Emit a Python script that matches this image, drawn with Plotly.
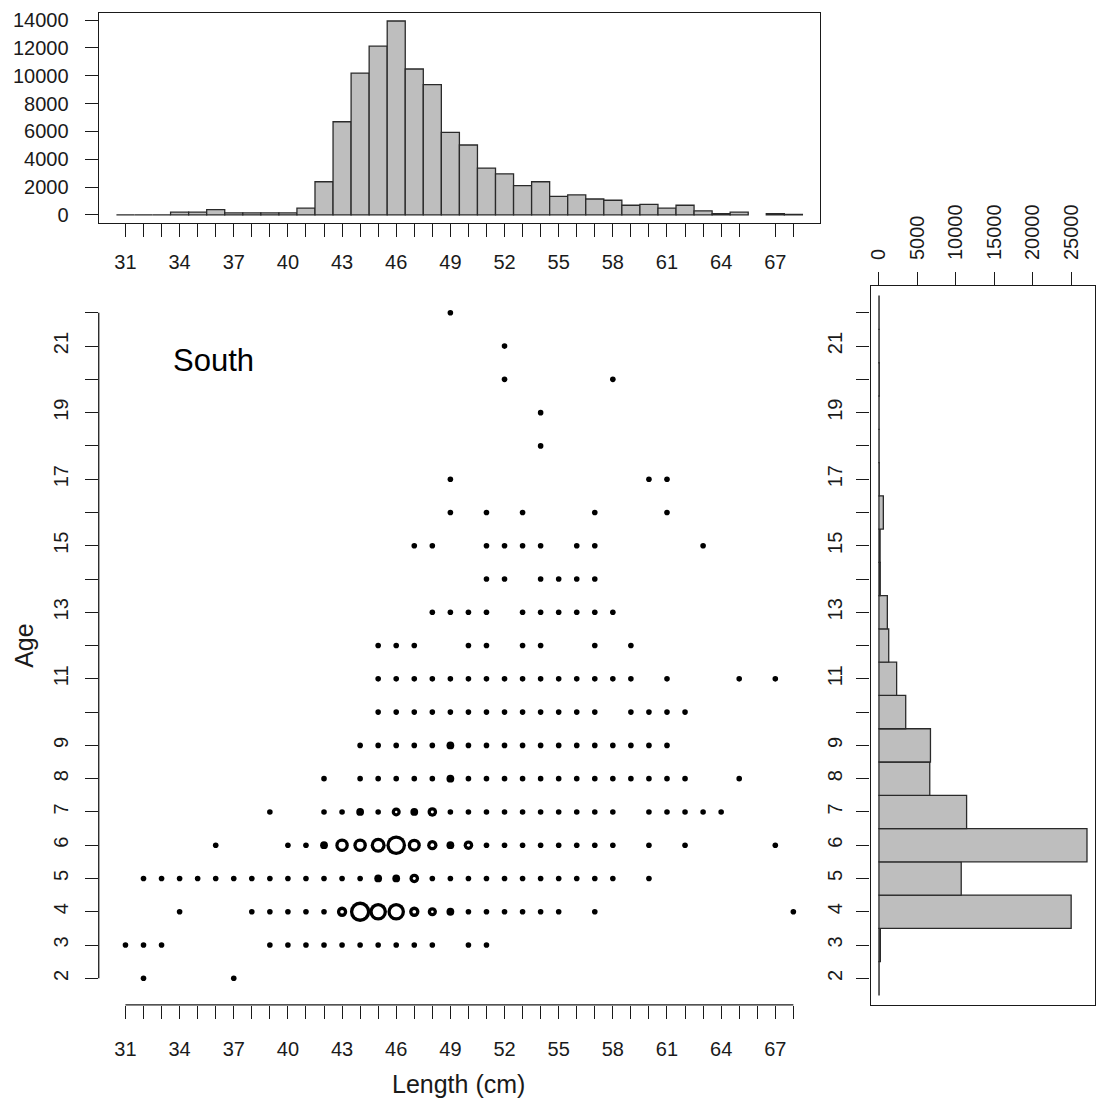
import plotly.graph_objects as go

# ---------------- data ----------------
# Length-frequency (top histogram), lengths 31..68 cm
len_bins = list(range(31, 69))
len_freq = [0, 0, 0, 190, 190, 380, 140, 140, 140, 140, 480, 2380, 6690, 10190,
            12120, 13930, 10480, 9360, 5930, 5020, 3360, 2950, 2100, 2380, 1330,
            1430, 1140, 1050, 690, 760, 480, 690, 290, 95, 190, None, 95, 30]

# Age-frequency (right histogram), ages 2..22
age_bins = list(range(2, 23))
age_freq = [20, 180, 25000, 10700, 27060, 11400, 6610, 6700, 3480, 2300, 1270,
            1090, 170, 150, 570, 40, 20, 20, 40, 20, 20]

# Age-length key (bubble plot): age, length, number
pt_age = (
    [2] * 2 + [3] * 15 + [4] * 21 + [5] * 28 + [6] * 23 + [7] * 23 + [8] * 21 +
    [9] * 18 + [10] * 17 + [11] * 18 + [12] * 9 + [13] * 10 + [14] * 6 +
    [15] * 9 + [16] * 5 + [17] * 3 + [18] + [19] + [20] * 2 + [21] + [22]
)
pt_len = [
    32, 37,
    31, 32, 33, 39, 40, 41, 42, 43, 44, 45, 46, 47, 48, 50, 51,
    34, 38, 39, 40, 41, 42, 43, 44, 45, 46, 47, 48, 49, 50, 51, 52, 53, 54, 55, 57, 68,
    32, 33, 34, 35, 36, 37, 38, 39, 40, 41, 42, 43, 44, 45, 46, 47, 48, 49, 50, 51, 52,
    53, 54, 55, 56, 57, 58, 60,
    36, 40, 41, 42, 43, 44, 45, 46, 47, 48, 49, 50, 51, 52, 53, 54, 55, 56, 57, 58, 60, 62, 67,
    39, 42, 43, 44, 45, 46, 47, 48, 49, 50, 51, 52, 53, 54, 55, 56, 57, 58, 60, 61, 62, 63, 64,
    42, 44, 45, 46, 47, 48, 49, 50, 51, 52, 53, 54, 55, 56, 57, 58, 59, 60, 61, 62, 65,
    44, 45, 46, 47, 48, 49, 50, 51, 52, 53, 54, 55, 56, 57, 58, 59, 60, 61,
    45, 46, 47, 48, 49, 50, 51, 52, 53, 54, 55, 56, 57, 59, 60, 61, 62,
    45, 46, 47, 48, 49, 50, 51, 52, 53, 54, 55, 56, 57, 58, 59, 61, 65, 67,
    45, 46, 47, 50, 51, 53, 54, 57, 59,
    48, 49, 50, 51, 53, 54, 55, 56, 57, 58,
    51, 52, 54, 55, 56, 57,
    47, 48, 51, 52, 53, 54, 56, 57, 63,
    49, 51, 53, 57, 61,
    49, 60, 61,
    54,
    54,
    52, 58,
    52,
    49,
]
pt_n = [
    10, 10,
    12, 12, 12, 12, 12, 12, 12, 12, 12, 12, 12, 12, 12, 12, 12,
    20, 30, 50, 80, 150, 400, 1715, 4165, 3500, 3500, 1715, 1450, 1100, 400, 300, 250, 200, 150, 100, 50, 20,
    20, 20, 30, 30, 40, 40, 60, 80, 100, 150, 250, 350, 450, 1100, 1100, 1540, 450, 400, 350, 300, 250,
    200, 150, 120, 100, 80, 50, 20,
    20, 100, 200, 1100, 2500, 2500, 2860, 4000, 2380, 1715, 1100, 1540, 450, 400, 300, 250, 200, 150, 100, 80, 50, 30, 20,
    20, 200, 300, 1100, 450, 1400, 1100, 1540, 450, 400, 350, 300, 250, 200, 150, 120, 100, 80, 50, 40, 30, 20, 20,
    50, 200, 300, 400, 450, 450, 1100, 450, 400, 350, 300, 250, 200, 150, 120, 100, 80, 60, 40, 30, 20,
    100, 200, 300, 400, 450, 1100, 450, 400, 350, 300, 250, 200, 150, 120, 100, 80, 60, 40,
    100, 150, 200, 250, 300, 300, 300, 250, 250, 200, 150, 120, 100, 60, 50, 40, 30,
    60, 80, 100, 150, 200, 200, 200, 200, 180, 160, 140, 120, 100, 80, 60, 40, 20, 20,
    60, 80, 100, 150, 150, 150, 120, 80, 40,
    60, 80, 100, 120, 150, 150, 120, 100, 80, 60,
    20, 30, 30, 30, 20, 20,
    10, 10, 20, 20, 20, 20, 20, 20, 10,
    100, 150, 150, 100, 50,
    10, 10, 20,
    20,
    20,
    20, 20,
    20,
    20,
]

len_tick_vals_top = [v for v, f in zip(len_bins, len_freq) if f is not None]
len_tick_vals = list(range(31, 69))
len_label_step = 3
age_tick_vals = list(range(2, 23))
age_tick_labels = ["2", "3", "4", "5", "6", "7", "8", "9", "", "11", "", "13", "",
                   "15", "", "17", "", "19", "", "21", ""]
count_ticks_top = list(range(0, 14001, 2000))
count_ticks_right = list(range(0, 25001, 5000))
panel_label = "South"

# ---------------- styling helpers ----------------
W, H = 1100, 1107
FONT = "Liberation Sans, Arial, sans-serif"
INK = "#1a1a1a"
BAR_FILL = "#bebebe"
BAR_LINE = "#2a2a2a"
TICK_FS = 20


def xdom(a, b):
    return [a / W, b / W]


def ydom(top, bottom):
    return [1 - bottom / H, 1 - top / H]


def len_labels(vals):
    return [str(v) if (v - 31) % len_label_step == 0 else "" for v in vals]


def r_range(lo, hi):
    pad = 0.04 * (hi - lo)
    return [lo - pad, hi + pad]


# bubble sizes: circle diameter proportional to number (R symbols-style),
# drawn with a thick outline; tiny counts collapse to a solid dot
LW = 3.3
PX_PER_FISH = 1 / 245.0
diam = [max(2.3, n * PX_PER_FISH) for n in pt_n]
outer_sizes = [d + LW for d in diam]
hole_sizes = [(d - LW) if (d - LW) > 1.6 else 0 for d in diam]

fig = go.Figure()

# top histogram
fig.add_trace(go.Bar(
    x=len_bins, y=len_freq, width=1, xaxis="x", yaxis="y",
    marker=dict(color=BAR_FILL, line=dict(color=BAR_LINE, width=1.3)),
    hoverinfo="x+y",
))

# bubbles: black disc + white hole => thick ring
fig.add_trace(go.Scatter(
    x=pt_len, y=pt_age, mode="markers", xaxis="x2", yaxis="y2",
    marker=dict(symbol="circle", size=outer_sizes, color="black",
                opacity=1, line=dict(width=0)),
    hoverinfo="x+y",
))
fig.add_trace(go.Scatter(
    x=pt_len, y=pt_age, mode="markers", xaxis="x2", yaxis="y2",
    marker=dict(symbol="circle", size=hole_sizes, color="white",
                opacity=1, line=dict(width=0)),
    hoverinfo="skip",
))

# right histogram
fig.add_trace(go.Bar(
    x=age_freq, y=age_bins, orientation="h", width=1, xaxis="x3", yaxis="y3",
    marker=dict(color=BAR_FILL, line=dict(color=BAR_LINE, width=1.3)),
    hoverinfo="x+y",
))

len_range = r_range(min(len_bins), max(len_bins))
age_range = r_range(min(age_bins), max(age_bins))
top_max = max(f for f in len_freq if f is not None)
right_max = max(age_freq)

tickfont = dict(family=FONT, size=TICK_FS, color=INK)
common = dict(showgrid=False, zeroline=False, ticks="outside", ticklen=13,
              tickwidth=1.3, tickcolor=INK, tickfont=tickfont, fixedrange=True)

main_top, main_bot = 284, 1007.3
main_left, main_right = 96, 819.3

fig.update_layout(
    width=W, height=H,
    margin=dict(l=0, r=0, t=0, b=0),
    paper_bgcolor="white", plot_bgcolor="white",
    showlegend=False,
    font=dict(family=FONT, color=INK),
    xaxis=dict(domain=xdom(main_left, main_right), range=len_range, anchor="y",
               tickmode="array", tickvals=len_tick_vals_top,
               ticktext=len_labels(len_tick_vals_top),
               showline=True, mirror=True, linecolor=INK, linewidth=1.3,
               ticklabelstandoff=8, **common),
    yaxis=dict(domain=ydom(9.3, 220), range=r_range(0, top_max), anchor="x",
               tickmode="array", tickvals=count_ticks_top,
               ticktext=[str(v) for v in count_ticks_top],
               showline=True, mirror=True, linecolor=INK, linewidth=1.3,
               ticklabelstandoff=12, **common),
    xaxis2=dict(domain=xdom(main_left, main_right), range=len_range, anchor="y2",
                tickmode="array", tickvals=len_tick_vals,
                ticktext=len_labels(len_tick_vals), showline=False,
                ticklabelstandoff=13, **common),
    yaxis2=dict(domain=ydom(main_top, main_bot), range=age_range, anchor="x2",
                tickmode="array", tickvals=age_tick_vals, ticktext=age_tick_labels,
                tickangle=-90, showline=False, ticklabelstandoff=9, **common),
    xaxis3=dict(domain=xdom(870, 1095.3), range=r_range(0, right_max), anchor="y3",
                side="top", tickmode="array", tickvals=count_ticks_right,
                ticktext=[str(v) for v in count_ticks_right],
                tickangle=-90, showline=True, mirror=True, linecolor=INK,
                linewidth=1.3, ticklabelstandoff=8, **common),
    yaxis3=dict(domain=ydom(main_top, main_bot), range=age_range, anchor="x3",
                tickmode="array", tickvals=age_tick_vals, ticktext=age_tick_labels,
                tickangle=-90, showline=True, mirror=True, linecolor=INK,
                linewidth=1.3, ticklabelstandoff=6, **common),
)

# R-style axis lines for the bubble plot (span first..last tick only)
fig.add_shape(type="line", xref="x2", yref="paper",
              x0=min(len_tick_vals), x1=max(len_tick_vals),
              y0=ydom(main_top, main_bot)[0], y1=ydom(main_top, main_bot)[0],
              line=dict(color=INK, width=1.3))
fig.add_shape(type="line", xref="paper", yref="y2",
              x0=main_left / W, x1=main_left / W,
              y0=min(age_tick_vals), y1=max(age_tick_vals),
              line=dict(color=INK, width=1.3))

# titles
fig.add_annotation(text="Length (cm)", xref="paper", yref="paper",
                   x=457 / W, y=1 - 1087 / H, xanchor="center", yanchor="middle",
                   showarrow=False, font=dict(family=FONT, size=25, color=INK))
fig.add_annotation(text="Age", xref="paper", yref="paper",
                   x=21 / W, y=1 - 646 / H, xanchor="center", yanchor="middle",
                   showarrow=False, textangle=-90,
                   font=dict(family=FONT, size=25, color=INK))
fig.add_annotation(text=panel_label, xref="paper", yref="paper",
                   x=211 / W, y=1 - 359 / H, xanchor="center", yanchor="middle",
                   showarrow=False, font=dict(family=FONT, size=31, color="black"))

fig.write_html("out.html")
